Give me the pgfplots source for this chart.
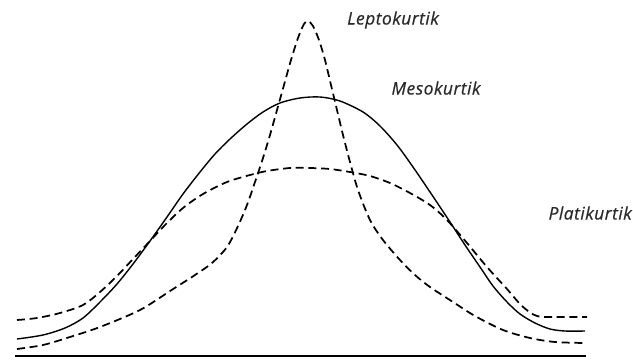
\documentclass[border=0pt]{standalone}
\usepackage{fontspec}
\setmainfont{Open Sans}
\newfontfamily\curvelabel{Open Sans}[FakeBold=0.5, LetterSpace=3]
\usepackage{pgfplots}
\pgfplotsset{compat=1.18}

\definecolor{labelgray}{HTML}{2A2A2A}

\begin{document}
\begin{tikzpicture}
\begin{axis}[
  scale only axis,
  width=474.75pt, height=271.5pt,
  xmin=0, xmax=633, ymin=0, ymax=362,
  y dir=reverse,
  hide axis, clip=false,
  every axis plot/.append style={black, smooth, no markers},
]
% frame that fixes the size of the page
\path (axis cs:0,0) rectangle (axis cs:633,362);

% baseline
\addplot[line width=1.5pt, sharp plot] coordinates {(15,356) (586,356)};

% leptokurtic curve
\addplot[line width=1.3pt, dash pattern=on 6pt off 3.5pt] coordinates {
(17,349) (43,345) (70,337) (100,327) (140,310) (170,291) (195,275) (212,263)
(227,247) (238,226) (247,205) (255,182) (263,158) (270,135) (277,110) (284,85)
(291,60) (298,38) (304,24) (308,21) (313,26) (319,40) (325,60) (331,85)
(337,110) (343,135) (350,162) (358,190) (370,220) (383,240) (400,260) (415,275)
(430,287) (453,302) (475,316) (503,330) (530,338) (555,342) (585,343)};

% mesokurtic curve
\addplot[line width=1.05pt] coordinates {
(17,339) (43,335) (65,328) (83,318) (100,302) (117,284) (133,264) (150,241)
(167,217) (183,194) (200,172) (215,154) (230,139) (247,124) (263,112) (280,103)
(300,98) (320,97) (340,101) (363,112) (380,126) (397,145) (413,167) (430,192)
(450,222) (465,245) (480,267) (493,286) (507,302) (520,314) (535,323) (550,329)
(565,331) (585,331)};

% platykurtic curve
\addplot[line width=1.3pt, dash pattern=on 6pt off 3.5pt] coordinates {
(17,320) (37,318) (60,313) (83,305) (100,292) (117,276) (133,259) (150,241)
(165,225) (183,208) (203,194) (227,182) (250,175) (267,171) (290,168) (310,168)
(330,169) (350,172) (370,176) (390,183) (410,193) (430,205) (447,220) (467,243)
(487,267) (507,289) (522,306) (537,316) (560,317) (587,317)};

% labels
\tikzset{curvename/.style={text=labelgray, inner sep=0pt,
  font=\curvelabel\itshape\fontsize{13}{15}\selectfont}}
\node[curvename] at (axis cs:393,20) {Leptokurtik};
\node[curvename] at (axis cs:436,88) {Mesokurtik};
\node[curvename, anchor=east] at (axis cs:632,213) {Platikurtik};
\end{axis}
\end{tikzpicture}
\end{document}
